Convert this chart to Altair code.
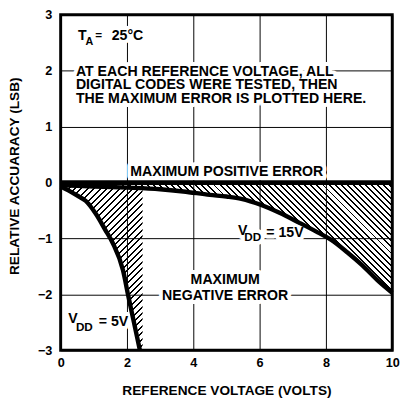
import altair as alt
import pandas as pd

# ---- data ----
v15_x = [0, 1, 2, 3, 3.7, 4.5, 5.0, 5.45, 6.05, 6.6, 7.2, 7.75, 8.15, 8.65, 9.1, 9.6, 10]
v15_y = [-0.05, -0.07, -0.09, -0.12, -0.16, -0.22, -0.25, -0.29, -0.40, -0.54, -0.72, -0.89, -1.02, -1.25, -1.48, -1.77, -1.97]
v5_x = [0, 0.23, 0.49, 0.76, 1.05, 1.34, 1.57, 1.88, 2.04, 2.21, 2.39]
v5_y = [-0.07, -0.14, -0.23, -0.33, -0.55, -0.84, -1.08, -1.57, -2.03, -2.5, -3.0]
pos_x = [0, 10]
pos_y = [0, 0]
band5_edge = 2.47      # right edge of the shaded band for VDD = 5V (volts)
band15_start = 2.0     # shaded band for VDD = 15V starts here (volts)

x_ticks = [0, 2, 4, 6, 8, 10]
y_ticks = [-3, -2, -1, 0, 1, 2, 3]
x_range = [0, 10]
y_range = [-3, 3]

left_labels = ["T", "A", "=", "25°C",
               "AT EACH REFERENCE VOLTAGE, ALL",
               "DIGITAL CODES WERE TESTED, THEN",
               "THE MAXIMUM ERROR IS PLOTTED HERE.",
               "V", "DD", "= 15V",
               "V", "DD", "= 5V"]
left_x = [0.52, 0.75, 1.04, 1.54, 0.46, 0.46, 0.46, 5.35, 5.54, 6.2, 0.23, 0.46, 1.15]
left_y = [2.62, 2.51, 2.64, 2.62, 1.97, 1.74, 1.50, -0.87, -0.98, -0.91, -2.44, -2.58, -2.49]
left_size = [14.5, 11, 12, 14.5, 14.5, 14.5, 14.5, 14.5, 12, 14.5, 14.5, 12, 14.5]

center_labels = ["MAXIMUM POSITIVE ERROR", "MAXIMUM", "NEGATIVE ERROR"]
center_x = [5.01, 4.96, 4.96]
center_y = [0.19, -1.74, -2.03]
center_size = [14.5, 14.5, 14.5]

# ---- layout / style ----
W, H = 340, 344
PX_V = W / 10.0
PX_L = H / 6.0
FONT = "Liberation Sans"


def hatch(w, h, spacing, direction, frac=0.32):
    k = (w + h) / (w * w + h * h)
    if direction == "/":
        x1, y1, x2, y2 = 0, 0, k * w, k * h
    else:
        x1, y1, x2, y2 = 0, 1, k * w, 1 - k * h
    n = int(round((w + h) / spacing))
    stops = []
    for i in range(n):
        a, b, c = i / n, (i + frac) / n, (i + 1) / n
        stops += [{"offset": a, "color": "black"},
                  {"offset": b, "color": "black"},
                  {"offset": b, "color": "rgba(255,255,255,0)"},
                  {"offset": c, "color": "rgba(255,255,255,0)"}]
    return {"gradient": "linear", "x1": x1, "y1": y1, "x2": x2, "y2": y2, "stops": stops}


X = alt.X("x:Q", scale=alt.Scale(domain=x_range, nice=False),
          axis=alt.Axis(values=x_ticks, title="REFERENCE VOLTAGE (VOLTS)", grid=True,
                        gridColor="black", gridWidth=1, gridOpacity=1,
                        ticks=False, domain=False, labelFlush=False, labelPadding=7,
                        titleY=41, titleBaseline="middle"))
Y = alt.Y("y:Q", scale=alt.Scale(domain=y_range, nice=False),
          axis=alt.Axis(values=y_ticks, title="RELATIVE ACCUARACY (LSB)", grid=True,
                        gridColor="black", gridWidth=1, gridOpacity=1,
                        ticks=False, domain=False, labelPadding=9,
                        titleX=-47, titleY=165, titleAngle=-90,
                        titleAlign="center", titleBaseline="middle"))

df15 = pd.DataFrame({"x": v15_x, "y": v15_y})
df5 = pd.DataFrame({"x": v5_x, "y": v5_y})
dfpos = pd.DataFrame({"x": pos_x, "y": pos_y})

dfA = pd.DataFrame({"x": [0] + v5_x, "y": [0] + v5_y})
dfA["x2"] = band5_edge
dfB = df15[df15["x"] >= band15_start].copy()
dfB["y2"] = 0.0

wA = band5_edge * PX_V
hA = 3 * PX_L
wB = (10 - band15_start) * PX_V
hB = -min(v15_y) * PX_L

areaA = alt.Chart(dfA).mark_area(orient="horizontal", interpolate="monotone",
                                 fill=hatch(wA, hA, 6.5, "/")).encode(x=X, x2="x2:Q", y=Y)
areaB = alt.Chart(dfB).mark_area(orient="vertical", interpolate="monotone",
                                 fill=hatch(wB, hB, 6.2, "\\")).encode(x=X, y=Y, y2="y2:Q")

dfL = pd.DataFrame({"x": left_x, "y": left_y, "t": left_labels, "s": left_size})
dfC = pd.DataFrame({"x": center_x, "y": center_y, "t": center_labels, "s": center_size})


def texts(df, align):
    enc = dict(x=X, y=Y, text="t:N", size=alt.Size("s:Q", scale=None, legend=None))
    halo = alt.Chart(df).mark_text(align=align, baseline="middle", font=FONT, fontWeight="bold",
                                   color="white", stroke="white", strokeWidth=8,
                                   strokeJoin="round").encode(**enc)
    txt = alt.Chart(df).mark_text(align=align, baseline="middle", font=FONT, fontWeight="bold",
                                  color="black").encode(**enc)
    return halo, txt


haloL, txtL = texts(dfL, "left")
haloC, txtC = texts(dfC, "center")

line15 = alt.Chart(df15).mark_line(color="black", strokeWidth=4.5, interpolate="monotone").encode(x=X, y=Y)
line5 = alt.Chart(df5).mark_line(color="black", strokeWidth=4.5, interpolate="monotone").encode(x=X, y=Y)
linepos = alt.Chart(dfpos).mark_line(color="black", strokeWidth=5).encode(x=X, y=Y)

chart = alt.layer(areaA, areaB, haloL, haloC, txtL, txtC,
                  line15, line5, linepos).properties(
    width=W, height=H,
    padding={"left": 0, "top": -4, "right": 0, "bottom": 0},
).configure_view(stroke="black", strokeWidth=3).configure_axis(
    labelFont=FONT, labelFontSize=13, labelFontWeight="bold", labelColor="black",
    titleFont=FONT, titleFontSize=14, titleFontWeight="bold", titleColor="black",
)

chart.save("out.html", embed_options={"renderer": "svg", "actions": False})
